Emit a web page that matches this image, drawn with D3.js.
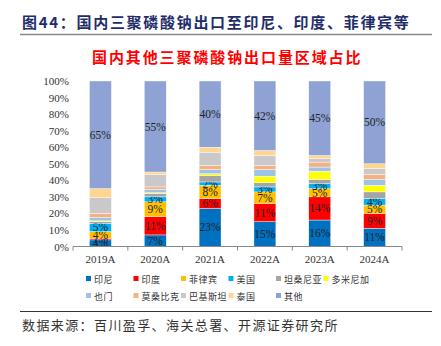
<!DOCTYPE html>
<html>
<head>
<meta charset="utf-8">
<script src="https://cdn.jsdelivr.net/npm/d3@7"></script>
<style>
  body { margin: 0; background: #fff; }
  svg { display: block; }
</style>
</head>
<body>
<svg id="vis-svg"></svg>
<script>
// categories and series (percent share per year)
const years = ["2019A", "2020A", "2021A", "2022A", "2023A", "2024A"];
const regions = ["印尼", "印度", "菲律宾", "美国", "坦桑尼亚", "多米尼加", "也门", "莫桑比克", "巴基斯坦", "泰国", "其他"];
const colors = ["#0070C0", "#FF0000", "#FFC000", "#00B0F0", "#A5A5A5", "#FFFF00", "#9DC3E6", "#F4B183", "#C9C9C9", "#FFD591", "#8FA2D4"];

const indonesia = [4, 7, 23, 15, 16, 11];
const india = [1, 11, 6, 11, 14, 9];
const philippines = [4, 9, 8, 7, 5, 5];
const usa = [5, 3, 2, 3, 3, 4];
const tanzania = [1, 2, 4, 2.5, 2.5, 4];
const dominica = [0.5, 0.5, 1, 4, 5, 4];
const yemen = [2, 2, 2.5, 4, 2.5, 3.5];
const mozambique = [2.5, 1.5, 2.5, 2.5, 3, 3];
const pakistan = [9.5, 7.5, 8, 6, 2, 3.5];
const thailand = [5.5, 1.5, 3, 3, 2, 3];
const others = [65, 55, 40, 42, 45, 50];

const seriesValues = [indonesia, india, philippines, usa, tanzania, dominica, yemen, mozambique, pakistan, thailand, others];
// which series carry a value label
const labelled = ["印尼", "印度", "菲律宾", "美国", "其他"];
const yTicks = [0, 10, 20, 30, 40, 50, 60, 70, 80, 90, 100];

const W = 441, H = 346;
const margin = { top: 81, left: 73, right: 39, bottom: 100 };
const width = W - margin.left - margin.right,
      height = 246.5 - margin.top;

const svg = d3.select("#vis-svg").attr("width", W).attr("height", H);

// Header
svg.append("text")
    .attr("x", 22).attr("y", 28)
    .style("font-family", "'Noto Sans CJK SC'")
    .style("font-size", "15px")
    .style("font-weight", "bold")
    .style("letter-spacing", "1.7px")
    .attr("fill", "#1F2D6B")
    .text("图44：国内三聚磷酸钠出口至印尼、印度、菲律宾等");

svg.append("line")
    .attr("x1", 20).attr("x2", 432)
    .attr("y1", 34.5).attr("y2", 34.5)
    .attr("stroke", "#888").attr("stroke-width", 1.5);

svg.append("text")
    .attr("x", 92).attr("y", 63)
    .style("font-family", "'Noto Sans CJK SC'")
    .style("font-size", "15px")
    .style("font-weight", "bold")
    .style("letter-spacing", "1.9px")
    .attr("fill", "#FF0000")
    .text("国内其他三聚磷酸钠出口量区域占比");

const table = years.map((yr, i) => {
    const row = { year: yr };
    regions.forEach((r, j) => row[r] = seriesValues[j][i]);
    return row;
});

const stacked = d3.stack().keys(regions)(table);

const x = d3.scaleBand().domain(years).range([0, width]).paddingInner(0.6).paddingOuter(0.3);
const y = d3.scaleLinear().domain([0, 100]).range([height, 0]);
const color = d3.scaleOrdinal().domain(regions).range(colors);

const g = svg.append("g").attr("transform", "translate(" + margin.left + "," + margin.top + ")");

// y axis labels
const yAxis = g.append("g")
    .call(d3.axisLeft(y).tickValues(yTicks).tickFormat(d => d + "%").tickSize(0).tickPadding(4));
yAxis.select(".domain").remove();
yAxis.selectAll("text")
    .style("font-family", "'Liberation Serif'")
    .style("font-size", "11px")
    .attr("fill", "#333");

// bars
const layer = g.selectAll(".layer")
    .data(stacked)
    .enter().append("g")
    .attr("class", "layer")
    .attr("fill", d => color(d.key));

layer.selectAll("rect")
    .data(d => d)
    .enter().append("rect")
    .attr("x", d => x(d.data.year))
    .attr("y", d => y(d[1]))
    .attr("height", d => y(d[0]) - y(d[1]))
    .attr("width", x.bandwidth())
    .attr("stroke", "#fff")
    .attr("stroke-width", 0.4);

// value labels
layer.filter(d => labelled.includes(d.key))
    .selectAll("text")
    .data(d => d)
    .enter().append("text")
    .attr("x", d => x(d.data.year) + x.bandwidth() / 2)
    .attr("y", d => (y(d[0]) + y(d[1])) / 2 + 4)
    .attr("text-anchor", "middle")
    .style("font-family", "'Liberation Serif'")
    .style("font-size", "11.5px")
    .attr("fill", "#222")
    .text(d => Math.round(d[1] - d[0]) + "%");

// x axis
const xAxis = g.append("g").attr("transform", "translate(0," + height + ")");
xAxis.append("line")
    .attr("x1", 0).attr("x2", width)
    .attr("stroke", "#888");
xAxis.selectAll(".tick")
    .data(d3.range(years.length + 1))
    .enter().append("line")
    .attr("x1", i => i * width / years.length)
    .attr("x2", i => i * width / years.length)
    .attr("y1", 0).attr("y2", 4)
    .attr("stroke", "#888");
xAxis.selectAll(".xlab")
    .data(years)
    .enter().append("text")
    .attr("x", d => x(d) + x.bandwidth() / 2)
    .attr("y", 16)
    .attr("text-anchor", "middle")
    .style("font-family", "'Liberation Serif'")
    .style("font-size", "11px")
    .attr("fill", "#333")
    .text(d => d);

// legend
const legendPos = regions.map((r, i) => {
    const row = i < 6 ? 0 : 1, col = i < 6 ? i : i - 6;
    return { key: r, x: 87 + col * 47.5, y: 279 + row * 17 };
});
const legend = svg.selectAll(".legend")
    .data(legendPos)
    .enter().append("g")
    .attr("transform", d => "translate(" + d.x + "," + d.y + ")");
legend.append("rect")
    .attr("x", -1).attr("y", -3)
    .attr("width", 5).attr("height", 5)
    .attr("fill", d => color(d.key));
legend.append("text")
    .attr("x", 7).attr("y", 3.5)
    .style("font-family", "'Noto Sans CJK SC'")
    .style("font-size", "9px")
    .style("letter-spacing", "0.5px")
    .attr("fill", "#333")
    .text(d => d.key);

// footer
svg.append("line")
    .attr("x1", 20).attr("x2", 432)
    .attr("y1", 311.5).attr("y2", 311.5)
    .attr("stroke", "#333").attr("stroke-width", 1);

svg.append("text")
    .attr("x", 22).attr("y", 330)
    .style("font-family", "'Noto Sans CJK SC'")
    .style("font-size", "13px")
    .style("letter-spacing", "1.4px")
    .attr("fill", "#333")
    .text("数据来源：百川盈孚、海关总署、开源证券研究所");
</script>
</body>
</html>
